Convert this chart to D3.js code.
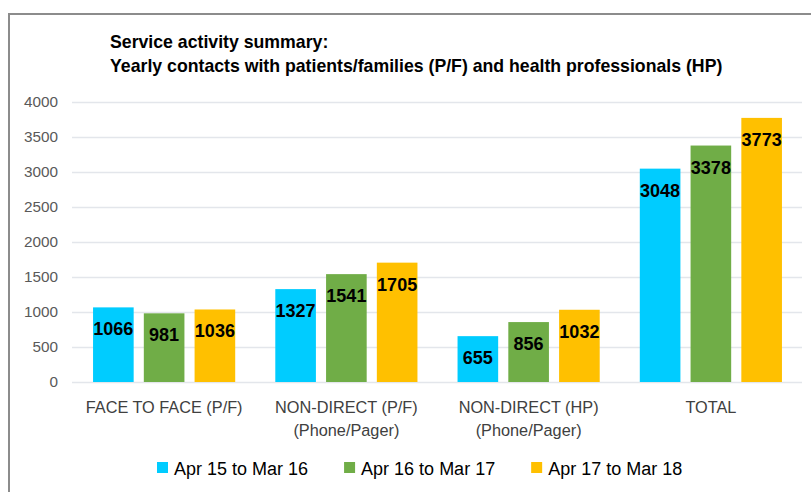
<!DOCTYPE html>
<html>
<head>
<meta charset="utf-8">
<script src="https://cdn.jsdelivr.net/npm/d3@7"></script>
<style>
  body { margin: 0; background: #fff; }
  text { font-family: "Liberation Sans", Arial, sans-serif; }
</style>
</head>
<body>
<div class="chart"></div>
<script>
// data
var categories = ["FACE TO FACE (P/F)", "NON-DIRECT (P/F)\n(Phone/Pager)", "NON-DIRECT (HP)\n(Phone/Pager)", "TOTAL"];
var seriesNames = ["Apr 15 to Mar 16", "Apr 16 to Mar 17", "Apr 17 to Mar 18"];
var apr15 = [1066, 1327, 655, 3048];
var apr16 = [981, 1541, 856, 3378];
var apr17 = [1036, 1705, 1032, 3773];
var yTicks = [0, 500, 1000, 1500, 2000, 2500, 3000, 3500, 4000];
var colors = ["#00CCFF", "#70AD47", "#FFC000"];
var titleLines = ["Service activity summary:", "Yearly contacts with patients/families (P/F) and health professionals (HP)"];

var svgWidth = 811;
var svgHeight = 492;
var margin = {top: 102, right: 9, bottom: 110, left: 72};
var width = svgWidth - margin.left - margin.right;
var height = svgHeight - margin.top - margin.bottom;

var seriesData = [apr15, apr16, apr17];

var svg = d3.select('.chart')
  .append('svg')
  .attr('width', svgWidth)
  .attr('height', svgHeight);

// outer frame (right/bottom edges run off the picture)
svg.append('rect')
  .attr('x', 9).attr('y', 14)
  .attr('width', svgWidth + 20).attr('height', svgHeight + 20)
  .attr('fill', 'none')
  .attr('stroke', '#8c8c8c')
  .attr('stroke-width', 2);

// title
svg.append('g').selectAll('text')
  .data(titleLines)
  .enter().append('text')
  .attr('x', 110)
  .attr('y', function(d, i) { return 48 + i * 24; })
  .attr('font-size', '17.7px')
  .attr('font-weight', 'bold')
  .attr('fill', '#000')
  .text(function(d) { return d; });

var chart = svg.append('g')
  .attr('transform', 'translate(' + margin.left + ',' + margin.top + ')');

var yScale = d3.scaleLinear().domain([0, 4000]).range([height, 0]);
var x0 = d3.scaleBand().domain(d3.range(categories.length)).range([1, width]).paddingInner(0.22).paddingOuter(0.11);
var x1 = d3.scaleBand().domain(d3.range(seriesNames.length)).range([0, x0.bandwidth()]).paddingInner(0.2);

// gridlines + tick labels
var leftAxis = d3.axisLeft(yScale).tickValues(yTicks).tickFormat(d3.format('d')).tickSize(-width).tickPadding(14);
var yAxis = chart.append('g').call(leftAxis);
yAxis.select('.domain').remove();
yAxis.selectAll('.tick line').attr('stroke', '#e3e6eb').attr('stroke-width', 1.3);
yAxis.selectAll('.tick text')
  .attr('fill', '#595959')
  .attr('font-size', '15.3px')
  .attr('font-family', '"Liberation Sans", Arial, sans-serif');

// bars
var groups = chart.selectAll('.grp')
  .data(categories)
  .enter().append('g')
  .attr('class', 'grp')
  .attr('transform', function(d, i) { return 'translate(' + x0(i) + ',0)'; });

groups.each(function(cat, ci) {
  var g = d3.select(this);
  var vals = seriesData.map(function(s) { return s[ci]; });
  g.selectAll('rect')
    .data(vals)
    .enter().append('rect')
    .attr('x', function(d, si) { return x1(si); })
    .attr('y', function(d) { return yScale(d); })
    .attr('width', x1.bandwidth())
    .attr('height', function(d) { return height - yScale(d); })
    .attr('fill', function(d, si) { return colors[si]; });
  g.selectAll('text.val')
    .data(vals)
    .enter().append('text')
    .attr('class', 'val')
    .attr('x', function(d, si) { return x1(si) + x1.bandwidth() / 2; })
    .attr('y', function(d) { return yScale(d) + 28; })
    .attr('text-anchor', 'middle')
    .attr('font-size', '18px')
    .attr('font-weight', 'bold')
    .attr('fill', '#000')
    .text(function(d) { return d; });
});

// category labels
groups.append('text')
  .attr('x', x0.bandwidth() / 2)
  .attr('y', height + 31)
  .attr('text-anchor', 'middle')
  .attr('font-size', '16.3px')
  .attr('fill', '#404040')
  .selectAll('tspan')
  .data(function(d) { return d.split('\n'); })
  .enter().append('tspan')
  .attr('x', x0.bandwidth() / 2)
  .attr('dy', function(d, i) { return i === 0 ? 0 : 23; })
  .text(function(d) { return d; });

// legend
var legend = svg.append('g').attr('transform', 'translate(157,0)');
var lx = 0;
seriesNames.forEach(function(name, i) {
  var item = legend.append('g').attr('transform', 'translate(' + lx + ',0)');
  item.append('rect')
    .attr('x', 0).attr('y', 462)
    .attr('width', 11).attr('height', 11)
    .attr('fill', colors[i]);
  var t = item.append('text')
    .attr('x', 17).attr('y', 475)
    .attr('font-size', '18px')
    .attr('fill', '#000')
    .text(name);
  lx += 17 + t.node().getComputedTextLength() + 36;
});
</script>
</body>
</html>
